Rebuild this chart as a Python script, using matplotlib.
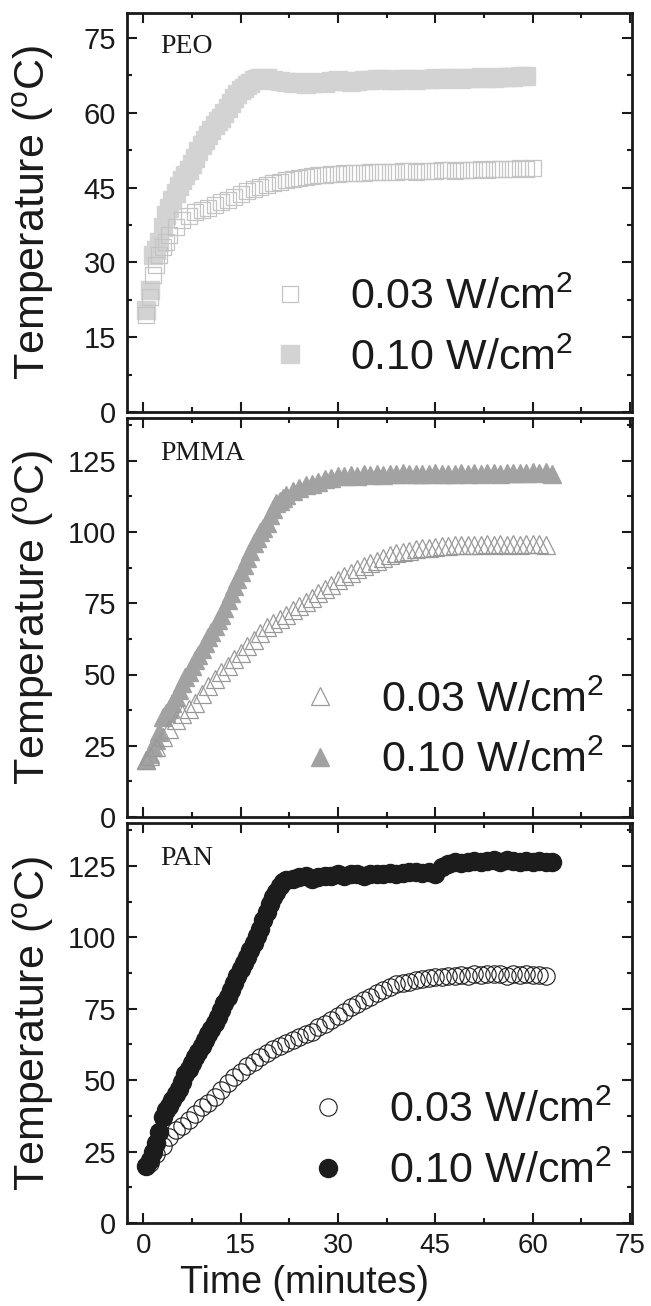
import matplotlib
matplotlib.use("Agg")
import matplotlib.pyplot as plt
from matplotlib.ticker import MultipleLocator

plt.rcParams['font.family'] = ['Liberation Sans', 'DejaVu Sans']
plt.rcParams['mathtext.default'] = 'regular'

INK = '#1a1a1a'

# ---- data (time in minutes, temperature in degC) ----
# half-minute readings where the curves rise fast, one per minute afterwards
peo_time_hi = [0.5 * k for k in range(1, 37)] + list(range(19, 60))
peo_temp_hi = [20.5, 24.5, 31.5, 32.5, 34, 37, 39.5, 41, 42.5, 44,
               45.3, 46.5, 47.5, 48.5, 49.8, 51, 52.3, 53.5, 54.5, 55.5,
               56.5, 57.5, 58.3, 59, 60, 61, 62, 63, 63.8, 64.5,
               65, 65.5, 66, 66.5, 66.8, 67,
               67, 66.5, 66.3, 66.2, 66.0, 66.2, 65.8, 66.0, 66.2, 66.0,
               66.4, 66.5, 66.3, 66.2, 66.4, 66.6, 66.5, 66.7, 66.8, 66.5,
               66.6, 66.8, 66.7, 66.6, 66.7, 66.8, 66.9, 66.8, 66.9, 67.0,
               66.8, 66.9, 67.0, 67.1, 66.9, 67.0, 67.1, 67.2, 67.2, 67.3,
               67.3]
peo_time_lo = [0.5, 1, 1.5, 2, 2.5, 3, 3.5, 4] + list(range(5, 61))
peo_temp_lo = [19.5, 23, 27.5, 29.5, 31.5, 33, 34, 35.5,
               37, 38.5, 39.3, 40, 40.5, 41, 41.6, 42.1, 42.6, 43.1,
               43.7, 44.3, 44.8, 45.2, 45.6, 45.9, 46.2, 46.5, 46.8, 47.0,
               47.2, 47.3, 47.5, 47.6, 47.7, 47.8, 47.9, 47.9, 48.0, 48.0,
               48.1, 48.1, 48.2, 48.2, 48.2, 48.3, 48.3, 48.2, 48.4, 48.4,
               48.3, 48.5, 48.5, 48.4, 48.6, 48.5, 48.6, 48.7, 48.6, 48.7,
               48.8, 48.7, 48.8, 48.9, 48.8, 48.9]

pmma_time_hi = [0.5 * k for k in range(1, 45)] + list(range(23, 64))
pmma_temp_hi = [20, 22, 24.5, 27, 30, 35, 36.5, 38, 40, 42,
                44.5, 47, 49, 51, 53, 55, 57, 59, 61, 63,
                65, 67, 69, 71, 73.5, 76, 78.5, 81, 83.5, 86,
                88.5, 91, 93.5, 96, 98, 100, 101.5, 103, 106, 108,
                110, 111, 112, 113,
                114.5, 115.5, 116.5, 117, 117.5, 118.5, 119, 119.5, 119.5, 120,
                119.8, 120.2, 120, 120.3, 120.1, 120.4, 120.2, 120.6, 120.3, 120.5,
                120.2, 120.4, 120.6, 120.3, 120.5, 120.4, 120.6, 120.5, 120.7, 120.4,
                120.6, 120.8, 120.5, 120.7, 120.6, 120.8, 120.6, 120.9, 120.7, 121.0,
                120.3]
pmma_time_lo = [0.5] + list(range(1, 63))
pmma_temp_lo = [20, 21.5, 24.5, 28, 31, 34, 36, 38, 40, 43,
                46, 48.5, 51, 53, 55.5, 57.5, 60, 62, 64.5, 66.5,
                68, 69.5, 71, 72.5, 74, 75.5, 77, 78.5, 80, 81.5,
                83, 84.5, 85.5, 87, 88, 89, 90, 91, 91.8, 92.5,
                93, 93.5, 94, 94.3, 94.5, 94.8, 95, 95.2, 95.3, 95.5,
                95.3, 95.6, 95.4, 95.7, 95.5, 95.8, 95.6, 95.8, 95.6, 95.9,
                95.7, 95.8, 95.5]

pan_time_hi = [0.5 * k for k in range(1, 45)] + list(range(23, 64))
pan_temp_hi = [20, 22, 25, 28, 32, 37, 39.5, 41, 43, 45,
               47, 49.5, 52, 54, 56, 58, 60, 62, 64, 66,
               68, 70, 72, 74.5, 77, 79, 81.5, 84, 86.5, 89,
               91, 93, 95.5, 98, 100.5, 103, 106, 109, 111.5, 114,
               116, 118, 119.2, 120,
               120.5, 121, 121.5, 120.5, 121, 121.5, 121.3, 122, 121.5, 122,
               122.3, 121.5, 122, 122.2, 122, 122.5, 122.3, 122.5, 122.8, 123,
               122.5, 122.8, 122.3, 124.5, 125.5, 126.3, 126, 126.5, 126.8, 126.3,
               126.8, 127, 126.5, 127.2, 126.8, 126.5, 126.8, 126.3, 126.6, 126.5,
               126.4]
pan_time_lo = [0.5] + list(range(1, 63))
pan_temp_lo = [20, 21, 24, 27, 30, 32.5, 34, 36, 38, 40.5,
               42, 44, 46.5, 49, 51, 53, 55, 56.5, 58, 59.5,
               61, 62, 63, 64, 65, 66, 67, 68.5, 69.5, 71,
               72.5, 74, 75.5, 76.5, 78, 79, 80.5, 81.5, 82.5, 83.5,
               84, 84.5, 85, 85.5, 85.6, 86, 86.2, 86.4, 86.6, 86.8,
               86.6, 87, 86.8, 87.2, 87.3, 87, 86.5, 87.2, 86.9, 87,
               86.8, 86.9, 86.5]

labels = ['0.03 W/cm$^2$', '0.10 W/cm$^2$']
panels = ['PEO', 'PMMA', 'PAN']

fig = plt.figure(figsize=(6.51, 13.06), dpi=100)
W, H = 651, 1306
boxes = [(127, 13, 412), (127, 418, 817), (127, 823, 1223)]
axes = []
for left, top, bottom in boxes:
    ax = fig.add_axes([left / W, 1 - bottom / H, 505 / W, (bottom - top) / H])
    axes.append(ax)
ax1, ax2, ax3 = axes

# PEO: squares
ax1.plot(peo_time_hi, peo_temp_hi, 's', ms=13, color='#d3d3d3', mec='#d3d3d3',
         label=labels[1], zorder=2)
ax1.plot(peo_time_lo, peo_temp_lo, 's', ms=11.5, mfc='none', mec='#c4c4c4', mew=0.9,
         label=labels[0], zorder=3)

# PMMA: triangles
ax2.plot(pmma_time_hi, pmma_temp_hi, '^', ms=13.5, color='#a2a2a2', mec='#a2a2a2',
         label=labels[1], zorder=2)
ax2.plot(pmma_time_lo, pmma_temp_lo, '^', ms=13, mfc='none', mec='#999999', mew=0.9,
         label=labels[0], zorder=3)

# PAN: circles
ax3.plot(pan_time_hi, pan_temp_hi, 'o', ms=13, color='#1c1c1c', mec='#1c1c1c',
         label=labels[1], zorder=2)
ax3.plot(pan_time_lo, pan_temp_lo, 'o', ms=12.5, mfc='none', mec='#1c1c1c', mew=0.8,
         label=labels[0], zorder=3)

ylims = [(0, 80), (0, 140), (0, 140)]
ymajor = [15, 25, 25]
legend_pos = [(0.582, 0.21), (0.642, 0.217), (0.658, 0.204)]
name_pos = [(0.065, 0.917), (0.065, 0.91), (0.065, 0.912)]

for i, ax in enumerate(axes):
    ax.set_xlim(-2.5, 75.3)
    ax.set_ylim(*ylims[i])
    ax.xaxis.set_major_locator(MultipleLocator(15))
    ax.xaxis.set_minor_locator(MultipleLocator(7.5))
    ax.yaxis.set_major_locator(MultipleLocator(ymajor[i]))
    ax.yaxis.set_minor_locator(MultipleLocator(ymajor[i] / 2))
    ax.tick_params(which='both', direction='in', top=True, right=True,
                   width=1.5, color=INK)
    ax.tick_params(which='major', length=7)
    ax.tick_params(which='minor', length=3.5)
    ax.tick_params(axis='y', labelsize=21, pad=8, labelcolor=INK)
    for sp in ax.spines.values():
        sp.set_linewidth(2)
        sp.set_color(INK)
    ax.set_ylabel('Temperature ($^o$C)', fontsize=31, color=INK)
    ax.yaxis.set_label_coords(-0.186, 0.5)
    ax.yaxis.label.set_va('center')
    ax.text(name_pos[i][0], name_pos[i][1], panels[i], transform=ax.transAxes,
            fontsize=20, family='Liberation Serif', color=INK, va='center', ha='left')
    handles, labs = ax.get_legend_handles_labels()
    ax.legend(handles[::-1], labs[::-1], loc='center', bbox_to_anchor=legend_pos[i],
              frameon=False, fontsize=31, handlelength=1.0, handletextpad=0.9,
              labelspacing=0.46, borderpad=0, borderaxespad=0,
              labelcolor=INK)
    if i < 2:
        ax.tick_params(axis='x', labelbottom=False)

ax3.tick_params(axis='x', labelsize=20, pad=7, labelcolor=INK)
ax3.set_xlabel('Time (minutes)', fontsize=27, color=INK)
ax3.xaxis.set_label_coords(0.351, -0.15)
ax3.xaxis.label.set_va('center')

fig.savefig('out.png', dpi=100)
